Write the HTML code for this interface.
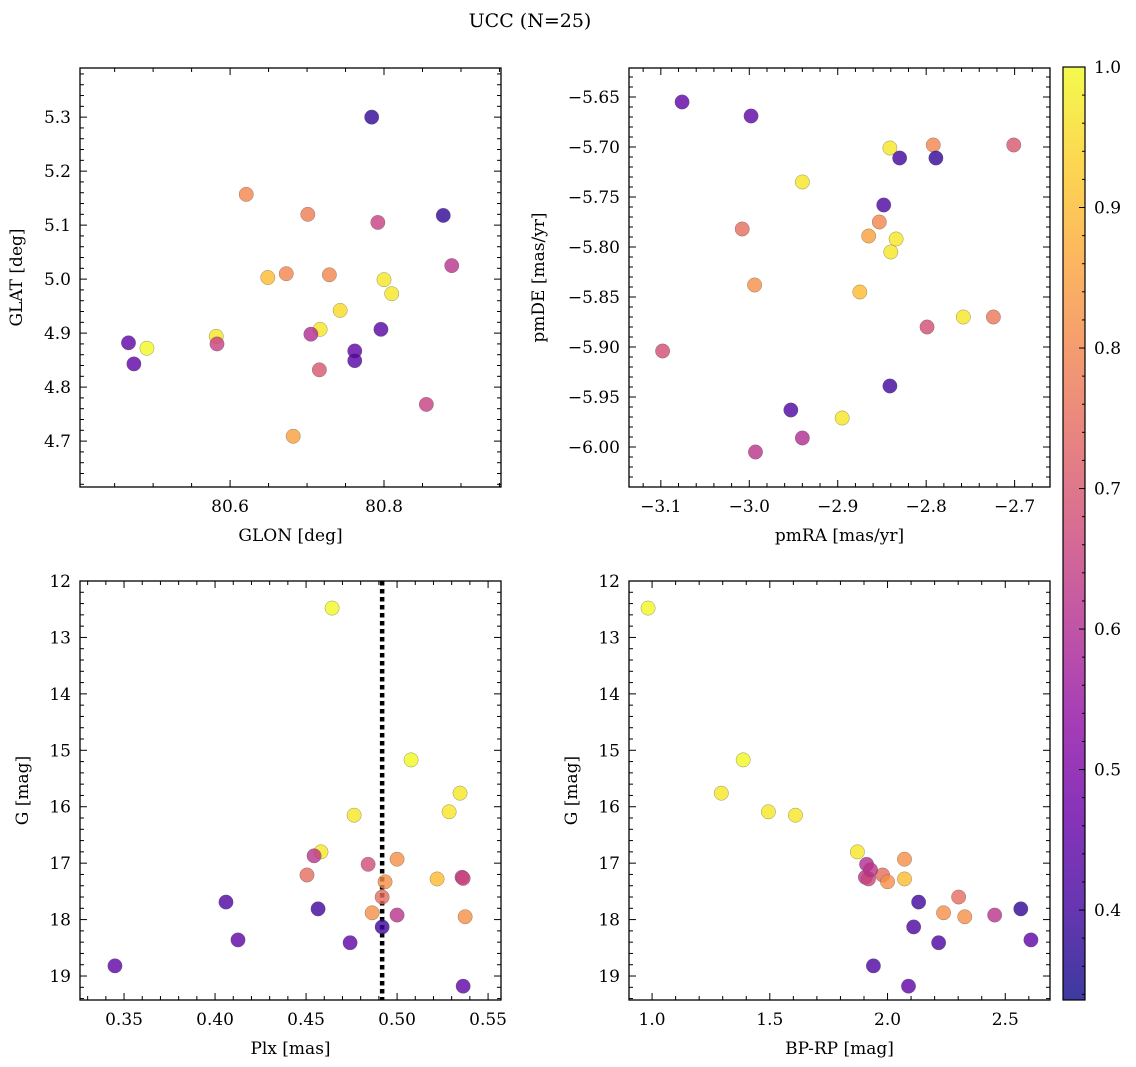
<!DOCTYPE html>
<html><head><meta charset="utf-8">
<style>
html,body{margin:0;padding:0;background:#fff;}
svg{display:block;font-family:"DejaVu Serif","Liberation Serif",serif;}
</style></head>
<body>
<svg id="fig" width="1136" height="1067" viewBox="0 0 1136 1067" xmlns="http://www.w3.org/2000/svg">
<defs>
<linearGradient id="plasma" x1="0" y1="1" x2="0" y2="0"></linearGradient>
</defs>
<text x="530" y="27" text-anchor="middle" font-size="19" fill="#000">UCC (N=25)</text>
</svg>
<script>
// ---- data ----
const tlGlon = [80.784,80.621,80.701,80.792,80.877,80.649,80.673,80.729,80.800,80.810,80.888,80.743,80.582,80.717,80.705,80.796,80.468,80.492,80.583,80.762,80.762,80.475,80.716,80.855,80.682];
const tlGlat = [5.300,5.157,5.120,5.105,5.118,5.003,5.010,5.008,4.999,4.973,5.025,4.942,4.894,4.907,4.898,4.907,4.882,4.872,4.880,4.867,4.849,4.843,4.832,4.768,4.709];
const tlProb = [0.38,0.8,0.78,0.65,0.38,0.9,0.8,0.8,0.97,0.97,0.62,0.95,0.97,0.97,0.6,0.43,0.45,1.0,0.65,0.45,0.43,0.45,0.7,0.65,0.85];

const trPmra = [-3.076,-2.998,-2.841,-2.792,-2.830,-2.789,-2.701,-2.940,-2.848,-3.008,-2.853,-2.865,-2.834,-2.840,-2.994,-2.875,-2.758,-2.724,-2.799,-3.098,-2.841,-2.953,-2.895,-2.940,-2.993];
const trPmde = [-5.655,-5.669,-5.701,-5.698,-5.711,-5.711,-5.698,-5.735,-5.758,-5.782,-5.775,-5.789,-5.792,-5.805,-5.838,-5.845,-5.870,-5.870,-5.880,-5.904,-5.939,-5.963,-5.971,-5.991,-6.005];
const trProb = [0.45,0.45,0.97,0.8,0.4,0.38,0.7,0.97,0.42,0.75,0.8,0.85,0.97,0.97,0.82,0.9,0.97,0.77,0.68,0.68,0.4,0.42,0.97,0.6,0.62];

const blPlx = [0.4643,0.5077,0.5346,0.5286,0.4764,0.4582,0.4544,0.5,0.4841,0.4505,0.522,0.5357,0.4934,0.4918,0.406,0.4566,0.4863,0.5,0.5374,0.4918,0.4126,0.4742,0.345,0.5363,0.5363];
const blG = [12.48,15.17,15.76,16.09,16.15,16.80,16.87,16.93,17.02,17.21,17.28,17.25,17.33,17.60,17.69,17.81,17.88,17.92,17.95,18.13,18.36,18.41,18.82,19.18,17.27];
const blProb = [1,1,0.97,0.97,0.97,0.97,0.62,0.82,0.68,0.75,0.9,0.62,0.82,0.75,0.42,0.4,0.82,0.62,0.82,0.4,0.45,0.45,0.45,0.45,0.66];
const plxMedian = 0.4918;

const brBpRp = [0.983,1.387,1.294,1.494,1.609,1.872,1.911,2.072,1.979,1.906,1.919,2.072,2.0,2.302,2.132,2.566,2.238,2.455,2.328,2.111,2.609,2.217,1.94,2.089,1.928];
const brG = [12.48,15.17,15.76,16.09,16.15,16.80,17.02,16.93,17.21,17.25,17.28,17.28,17.33,17.60,17.69,17.81,17.88,17.92,17.95,18.13,18.36,18.41,18.82,19.18,17.12];
const brProb = [1,1,0.97,0.97,0.97,0.97,0.6,0.82,0.75,0.62,0.66,0.9,0.82,0.75,0.4,0.38,0.82,0.62,0.82,0.42,0.45,0.42,0.42,0.45,0.62];

const cbTicks = [0.4,0.5,0.6,0.7,0.8,0.9,1.0];
const cbMin = 0.336, cbMax = 1.0;

// ---- helpers ----
const NS = "http://www.w3.org/2000/svg";
const svg = document.getElementById('fig');
const plasmaStops = [[0,"#0d0887"],[0.1,"#41049d"],[0.2,"#6a00a8"],[0.3,"#8f0da4"],[0.4,"#b12a90"],[0.5,"#cc4778"],[0.6,"#e16462"],[0.7,"#f2844b"],[0.8,"#fca636"],[0.9,"#fcce25"],[1,"#f0f921"]];
function hex2rgb(h){return [parseInt(h.substr(1,2),16),parseInt(h.substr(3,2),16),parseInt(h.substr(5,2),16)];}
function plasma(t){
  t=Math.max(0,Math.min(1,t));
  for(let i=0;i<plasmaStops.length-1;i++){
    const [a,ca]=plasmaStops[i],[b,cb]=plasmaStops[i+1];
    if(t<=b){const f=(t-a)/(b-a);const A=hex2rgb(ca),B=hex2rgb(cb);
      return `rgb(${Math.round(A[0]+(B[0]-A[0])*f)},${Math.round(A[1]+(B[1]-A[1])*f)},${Math.round(A[2]+(B[2]-A[2])*f)})`;}
  }
  return plasmaStops[plasmaStops.length-1][1];
}
function mk(tag,attrs,parent){const e=document.createElementNS(NS,tag);for(const k in attrs)e.setAttribute(k,attrs[k]);(parent||svg).appendChild(e);return e;}
function fmt(v,d){const s=Math.abs(v).toFixed(d);return (v<-1e-9?"\u2212":"")+s;}

function panel(cfg){
  const g=mk('g',{});
  
  
  const sx=v=>cfg.x0+(v-cfg.xmin)/(cfg.xmax-cfg.xmin)*cfg.w;
  const sy=v=>cfg.y0+(v-cfg.yTop)/(cfg.yBot-cfg.yTop)*cfg.h;
  const eps=1e-9;
  const xlo=Math.min(cfg.xmin,cfg.xmax), xhi=Math.max(cfg.xmin,cfg.xmax);
  const ylo=Math.min(cfg.yTop,cfg.yBot), yhi=Math.max(cfg.yTop,cfg.yBot);
  const tg=mk('g',{stroke:'#000','stroke-width':1},g);
  
  
  for(let v=Math.ceil(xlo/cfg.xminor-eps)*cfg.xminor; v<=xhi+eps; v+=cfg.xminor){
    const isMaj=Math.abs(v/cfg.xmajor-Math.round(v/cfg.xmajor))<1e-6;
    const L=isMaj?7:4, x=sx(v);
    mk('line',{x1:x,x2:x,y1:cfg.y0+cfg.h,y2:cfg.y0+cfg.h-L},tg);
    mk('line',{x1:x,x2:x,y1:cfg.y0,y2:cfg.y0+L},tg);
    if(isMaj){const t=mk('text',{x:x,y:cfg.y0+cfg.h+25,'text-anchor':'middle','font-size':17,stroke:'none',fill:'#000'},g);
      t.textContent=fmt(v,cfg.xdec);
      
      }
  }
  for(let v=Math.ceil(ylo/cfg.yminor-eps)*cfg.yminor; v<=yhi+eps; v+=cfg.yminor){
    const isMaj=Math.abs(v/cfg.ymajor-Math.round(v/cfg.ymajor))<1e-6;
    const L=isMaj?7:4, y=sy(v);
    mk('line',{x1:cfg.x0,x2:cfg.x0+L,y1:y,y2:y},tg);
    mk('line',{x1:cfg.x0+cfg.w,x2:cfg.x0+cfg.w-L,y1:y,y2:y},tg);
    if(isMaj){const t=mk('text',{x:cfg.x0-9,y:y+6,'text-anchor':'end','font-size':17,fill:'#000'},g);
      t.textContent=fmt(v,cfg.ydec);
      
      }
  }
  if(cfg.vline!==undefined){
    const vl=mk('line',{x1:sx(cfg.vline),x2:sx(cfg.vline),y1:cfg.y0,y2:cfg.y0+cfg.h,stroke:'#000','stroke-width':4.5,'stroke-dasharray':'4.5,3.5'},g);
    
    
  }
  const pg=mk('g',{},g);
  
  
  for(let i=0;i<cfg.xs.length;i++){
    const c=mk('circle',{cx:sx(cfg.xs[i]),cy:sy(cfg.ys[i]),r:7.2,fill:plasma((cfg.cs[i]-cbMin)/(cbMax-cbMin)),'fill-opacity':0.8,stroke:'#555','stroke-opacity':0.6,'stroke-width':0.5},pg);
    
    
  }
  const fr=mk('rect',{x:cfg.x0,y:cfg.y0,width:cfg.w,height:cfg.h,fill:'none',stroke:'#000','stroke-width':1.3},g);
  
  
  const xl=mk('text',{x:cfg.x0+cfg.w/2,y:cfg.y0+cfg.h+54,'text-anchor':'middle','font-size':17,fill:'#000'},g);
  xl.textContent=cfg.xlabel;
  
  
  const yx=cfg.ylabelX, yy=cfg.y0+cfg.h/2;
  const yl=mk('text',{x:yx,y:yy,'text-anchor':'middle','font-size':17,fill:'#000',transform:`rotate(-90 ${yx} ${yy})`},g);
  yl.textContent=cfg.ylabel;
  
  
}

panel({name:'glon-glat-panel',x0:80,y0:68,w:421,h:419,xmin:80.405,xmax:80.952,yTop:5.391,yBot:4.615,
  xmajor:0.2,xminor:0.05,ymajor:0.1,yminor:0.02,xdec:1,ydec:1,xs:tlGlon,ys:tlGlat,cs:tlProb,
  xlabel:'GLON [deg]',ylabel:'GLAT [deg]',ylabelX:22});
panel({name:'pm-panel',x0:629,y0:68,w:421,h:419,xmin:-3.136,xmax:-2.660,yTop:-5.621,yBot:-6.040,
  xmajor:0.1,xminor:0.02,ymajor:0.05,yminor:0.01,xdec:1,ydec:2,xs:trPmra,ys:trPmde,cs:trProb,
  xlabel:'pmRA [mas/yr]',ylabel:'pmDE [mas/yr]',ylabelX:544});
panel({name:'plx-g-panel',x0:80,y0:581,w:421,h:419,xmin:0.3258,xmax:0.5571,yTop:12,yBot:19.425,
  xmajor:0.05,xminor:0.01,ymajor:1,yminor:0.2,xdec:2,ydec:0,xs:blPlx,ys:blG,cs:blProb,vline:plxMedian,
  xlabel:'Plx [mas]',ylabel:'G [mag]',ylabelX:28});
panel({name:'cmd-panel',x0:629,y0:581,w:421,h:419,xmin:0.902,xmax:2.69,yTop:12,yBot:19.425,
  xmajor:0.5,xminor:0.1,ymajor:1,yminor:0.2,xdec:1,ydec:0,xs:brBpRp,ys:brG,cs:brProb,
  xlabel:'BP-RP [mag]',ylabel:'G [mag]',ylabelX:577});

// ---- colorbar ----
const grad=document.getElementById('plasma');
plasmaStops.forEach(([o,c])=>{mk('stop',{offset:o,'stop-color':c},grad);});
const cb={x:1063,y:67,w:22,h:933};
const cbg=mk('g',{});


mk('rect',{x:cb.x,y:cb.y,width:cb.w,height:cb.h,fill:'url(#plasma)','fill-opacity':0.8},cbg);
mk('rect',{x:cb.x,y:cb.y,width:cb.w,height:cb.h,fill:'none',stroke:'#000','stroke-width':1.2},cbg);
const cy=v=>cb.y+cb.h-(v-cbMin)/(cbMax-cbMin)*cb.h;
for(let v=Math.ceil(cbMin/0.02)*0.02; v<=cbMax+1e-9; v+=0.02){
  const maj=Math.abs(v*10-Math.round(v*10))<1e-6;
  mk('line',{x1:cb.x+cb.w,x2:cb.x+cb.w-(maj?6:3),y1:cy(v),y2:cy(v),stroke:'#000','stroke-width':1},cbg);
}
cbTicks.forEach(v=>{
  const t=mk('text',{x:cb.x+cb.w+9,y:cy(v)+6,'font-size':17,fill:'#000'},cbg);
  t.textContent=v.toFixed(1);
  
  
});
</script>
</body></html>
